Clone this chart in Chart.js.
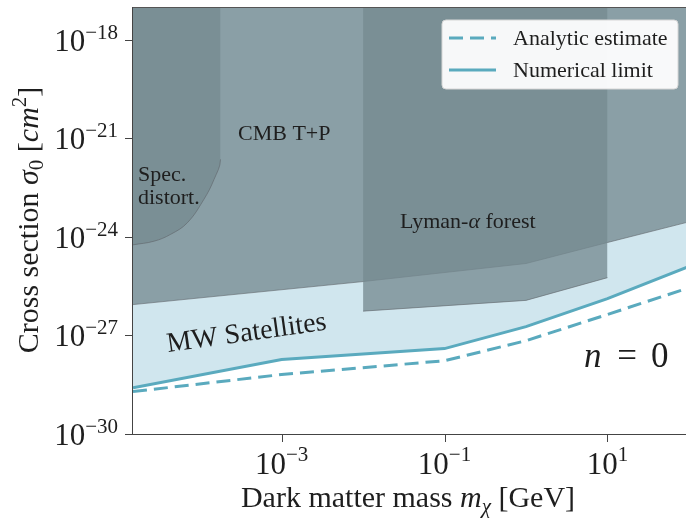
<!DOCTYPE html>
<html><head><meta charset="utf-8">
<script src="https://cdn.jsdelivr.net/npm/chart.js@4.4.0/dist/chart.umd.min.js"></script>
<style>html,body{margin:0;padding:0;background:#fff;}canvas{display:block;}</style>
</head><body>
<canvas id="c" width="686" height="521"></canvas>
<script>
// ---- data ----
const xRange = [1.5e-5, 92];
const yRange = [1e-30, 1e-17];
const xTickExps = [-3, -1, 1];
const yTickExps = [-18, -21, -24, -27, -30];

const numericalX = [1.5e-5, 1e-3, 1e-1, 1, 10, 100];
const numericalY = [2.57e-29, 1.86e-28, 3.98e-28, 1.86e-27, 1.33e-26, 1.26e-25];
const analyticX  = [1.5e-5, 1e-3, 1e-1, 1, 10, 100];
const analyticY  = [1.95e-29, 6.46e-29, 1.70e-28, 6.92e-28, 4.37e-27, 2.82e-26];
const cmbX = [1.5e-5, 1e-2, 1, 10, 100];
const cmbY = [8.7e-27, 4.37e-26, 1.55e-25, 6.76e-25, 2.88e-24];
const lymanX = [1e-2, 1e-2, 1, 10, 10];
const lymanY = [1e-17, 5.5e-27, 1.17e-26, 5.75e-26, 1e-17];
const specX = [1.5e-5, 2.71e-5, 4.35e-5, 6.97e-5, 1.11e-4, 1.48e-4, 1.78e-4, 1.78e-4];
const specY = [5.75e-25, 7.4e-25, 1.2e-24, 2.7e-24, 1.38e-23, 5.6e-23, 2.3e-22, 1e-17];

const legendLabels = ['Analytic estimate', 'Numerical limit'];
const regionLabels = { cmb: 'CMB T+P', spec: ['Spec.', 'distort.'], lyman: 'Lyman-α forest', mw: 'MW Satellites' };

// ---- styles ----
const SERIF = "'Liberation Serif','DejaVu Serif',serif";
const LINE = '#5aaabe';
const GREY = 'rgba(117,138,145,0.77)';
const EDGE = 'rgba(95,100,105,0.6)';
const MW = '#d0e6ee';
const TXT = '#1e1e1e';
const AXIS = '#444';

const pts = (xs, ys) => xs.map((x, i) => ({ x, y: ys[i] }));
// no edge line on vertical sides of the shaded regions
const edgeSeg = { borderColor: c => (c.p0.parsed.x === c.p1.parsed.x ? 'rgba(0,0,0,0)' : EDGE) };

function font(r) { return (r.it ? 'italic ' : '') + r.s + 'px ' + SERIF; }
function drawRuns(ctx, runs, x, y, align) {
  let w = 0;
  runs.forEach(r => { ctx.font = font(r); r.w = ctx.measureText(r.t).width; w += r.w; });
  let cx = align === 'center' ? x - w / 2 : align === 'right' ? x - w : x;
  runs.forEach(r => { ctx.font = font(r); ctx.fillText(r.t, cx, y + (r.dy || 0)); cx += r.w; });
}

const deco = {
  id: 'deco',
  afterDraw(chart) {
    const ctx = chart.ctx, a = chart.chartArea;
    const xs = chart.scales.x, ys = chart.scales.y;
    ctx.save();
    ctx.textAlign = 'left'; ctx.textBaseline = 'alphabetic';
    // spines
    ctx.fillStyle = '#555'; ctx.fillRect(a.left, a.top, a.right - a.left, 1);
    ctx.fillStyle = AXIS;
    ctx.fillRect(Math.round(a.left) - 1, a.top, 1, a.bottom - a.top + 1);
    ctx.fillRect(a.left - 1, Math.round(a.bottom), a.right - a.left + 1, 1);
    ctx.fillStyle = TXT;
    // y ticks + labels
    yTickExps.forEach(e => {
      const y = ys.getPixelForValue(Math.pow(10, e));
      ctx.fillStyle = AXIS; ctx.fillRect(a.left - 8, Math.round(y), 7, 1);
      ctx.fillStyle = TXT;
      drawRuns(ctx, [{ t: '10', s: 31 }, { t: '−' + Math.abs(e), s: 21, dy: -12 }], 118, y + 11, 'right');
    });
    // x ticks + labels
    xTickExps.forEach(e => {
      const x = xs.getPixelForValue(Math.pow(10, e));
      ctx.fillStyle = AXIS; ctx.fillRect(Math.round(x), a.bottom, 1, 8);
      ctx.fillStyle = TXT;
      const sup = (e < 0 ? '−' : '') + Math.abs(e);
      drawRuns(ctx, [{ t: '10', s: 31 }, { t: sup, s: 21, dy: -13 }], x, 474, 'center');
    });
    // axis titles
    drawRuns(ctx, [{ t: 'Dark matter mass ', s: 30 }, { t: 'm', s: 30, it: true }, { t: 'χ', s: 21, it: true, dy: 6 }, { t: ' [GeV]', s: 30 }], 408, 507, 'center');
    ctx.save();
    ctx.translate(38, 220); ctx.rotate(-Math.PI / 2);
    drawRuns(ctx, [{ t: 'Cross section ', s: 30 }, { t: 'σ', s: 30, it: true }, { t: '0', s: 21, dy: 5 }, { t: ' [', s: 30 }, { t: 'cm', s: 30, it: true }, { t: '2', s: 21, dy: -12 }, { t: ']', s: 30 }], 0, 0, 'center');
    ctx.restore();
    // region labels
    ctx.font = '22px ' + SERIF;
    ctx.fillText(regionLabels.cmb, 238, 140);
    ctx.fillText(regionLabels.spec[0], 138, 181);
    ctx.fillText(regionLabels.spec[1], 138, 204);
    drawRuns(ctx, [{ t: 'Lyman-', s: 22 }, { t: 'α', s: 22, it: true }, { t: ' forest', s: 22 }], 400, 228, 'left');
    ctx.save();
    ctx.translate(168, 352); ctx.rotate(-8 * Math.PI / 180);
    ctx.font = '28px ' + SERIF; ctx.fillText(regionLabels.mw, 0, 0);
    ctx.restore();
    // n = 0
    ctx.font = 'italic 35px ' + SERIF; ctx.fillText('n', 584, 367);
    ctx.font = '35px ' + SERIF;
    ctx.textAlign = 'center'; ctx.fillText('=', 627, 367);
    ctx.textAlign = 'left'; ctx.fillText('0', 651, 367);
    // legend
    const L = 442, T = 20, R = 678, B = 89, rad = 4;
    ctx.beginPath();
    ctx.moveTo(L + rad, T); ctx.lineTo(R - rad, T); ctx.quadraticCurveTo(R, T, R, T + rad);
    ctx.lineTo(R, B - rad); ctx.quadraticCurveTo(R, B, R - rad, B);
    ctx.lineTo(L + rad, B); ctx.quadraticCurveTo(L, B, L, B - rad);
    ctx.lineTo(L, T + rad); ctx.quadraticCurveTo(L, T, L + rad, T); ctx.closePath();
    ctx.fillStyle = 'rgba(255,255,255,0.94)'; ctx.fill();
    ctx.strokeStyle = '#d6d6d6'; ctx.lineWidth = 1; ctx.stroke();
    ctx.strokeStyle = LINE; ctx.lineWidth = 3; ctx.lineCap = 'butt';
    ctx.setLineDash([14, 7]);
    ctx.beginPath(); ctx.moveTo(449, 38); ctx.lineTo(496, 38); ctx.stroke();
    ctx.setLineDash([]);
    ctx.beginPath(); ctx.moveTo(449, 70); ctx.lineTo(496, 70); ctx.stroke();
    ctx.fillStyle = TXT; ctx.font = '22px ' + SERIF;
    ctx.fillText(legendLabels[0], 513, 45);
    ctx.fillText(legendLabels[1], 513, 77);
    ctx.restore();
  }
};

const axisCommon = {
  type: 'logarithmic',
  ticks: { display: false },
  grid: { display: false },
  border: { display: false }
};

new Chart(document.getElementById('c'), {
  type: 'line',
  data: {
    datasets: [
      { label: 'Numerical limit', data: pts(numericalX, numericalY), borderColor: LINE, borderWidth: 3, fill: false, order: 1 },
      { label: 'Analytic estimate', data: pts(analyticX, analyticY), borderColor: LINE, borderWidth: 3, borderDash: [14, 7], fill: false, order: 2 },
      { label: 'Lyman', data: pts(lymanX, lymanY), borderColor: EDGE, segment: edgeSeg, borderWidth: 1, backgroundColor: GREY, fill: 'end', order: 7 },
      { label: 'Spec', data: pts(specX, specY), borderColor: EDGE, segment: edgeSeg, borderWidth: 1, backgroundColor: GREY, fill: 'end', tension: 0.4, order: 8 },
      { label: 'CMB', data: pts(cmbX, cmbY), borderColor: EDGE, borderWidth: 1, backgroundColor: GREY, fill: 'end', order: 9 },
      { label: 'MW', data: pts(numericalX, numericalY), borderColor: 'rgba(0,0,0,0)', borderWidth: 1, backgroundColor: MW, fill: 'end', order: 10 }
    ]
  },
  options: {
    responsive: false, animation: false, devicePixelRatio: 1,
    layout: { padding: { top: 7, left: 0, right: 0, bottom: 0 } },
    elements: { point: { radius: 0 }, line: { tension: 0 } },
    plugins: { legend: { display: false }, tooltip: { enabled: false } },
    scales: {
      x: Object.assign({}, axisCommon, {
        min: xRange[0], max: xRange[1],
        afterBuildTicks: s => { s.ticks = xTickExps.map(e => ({ value: Math.pow(10, e) })); },
        afterFit: s => { s.height = 87; }
      }),
      y: Object.assign({}, axisCommon, {
        min: yRange[0], max: yRange[1],
        afterBuildTicks: s => { s.ticks = yTickExps.map(e => ({ value: Math.pow(10, e) })); },
        afterFit: s => { s.width = 133; }
      })
    }
  },
  plugins: [deco]
});
</script>
</body></html>
